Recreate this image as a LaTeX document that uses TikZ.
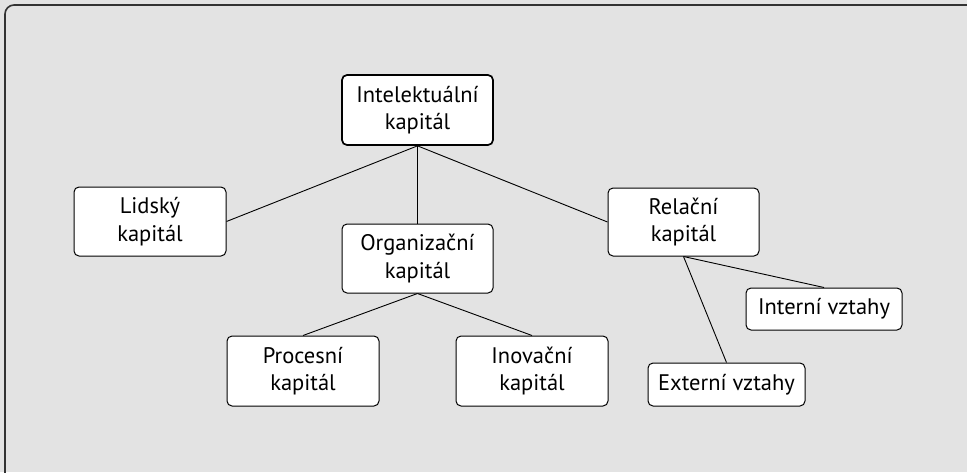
\documentclass[tikz,border=0pt]{standalone}
\usepackage{fontspec}
\setmainfont{PT Sans}
\begin{document}
\begin{tikzpicture}[x=1pt,y=-1pt,
  box/.style={draw=black, fill=white, rounded corners=5pt, line width=1pt,
    align=center, inner sep=0pt, text=black,
    font=\fontsize{22.5}{27.5}\selectfont},
  link/.style={draw=black, line width=0.9pt}]
\path[use as bounding box, fill={rgb,255:red,227;green,227;blue,227}] (0,0) rectangle (967,472);
\begin{scope}
\clip (0,0) rectangle (967,472);
\draw[draw={rgb,255:red,51;green,51;blue,51}, line width=1.6pt, rounded corners=9pt] (5,5) rectangle (990,500);
\end{scope}
\node[box, line width=1.7pt, minimum width=151pt, minimum height=70pt] (I) at (417.5,110) {Intelektuální\\kapitál};
\node[box, minimum width=152pt, minimum height=69pt] (L) at (150,221.5) {Lidský\\kapitál};
\node[box, minimum width=151pt, minimum height=69pt] (O) at (417.5,258.5) {Organizační\\kapitál};
\node[box, minimum width=151pt, minimum height=68pt] (R) at (683.5,222) {Relační\\kapitál};
\node[box, minimum width=156pt, minimum height=42pt] (IV) at (824,309) {Interní vztahy};
\node[box, minimum width=157pt, minimum height=43pt] (EV) at (726.5,384.5) {Externí vztahy};
\node[box, minimum width=152pt, minimum height=70pt] (P) at (303,371) {Procesní\\kapitál};
\node[box, minimum width=152pt, minimum height=70pt] (N) at (532,371) {Inovační\\kapitál};
\draw[link] (I.south) -- (L.east);
\draw[link] (I.south) -- (O.north);
\draw[link] (I.south) -- (R.west);
\draw[link] (O.south) -- (P.north);
\draw[link] (O.south) -- (N.north);
\draw[link] (R.south) -- (IV.north);
\draw[link] (R.south) -- (EV.north);
\end{tikzpicture}
\end{document}
